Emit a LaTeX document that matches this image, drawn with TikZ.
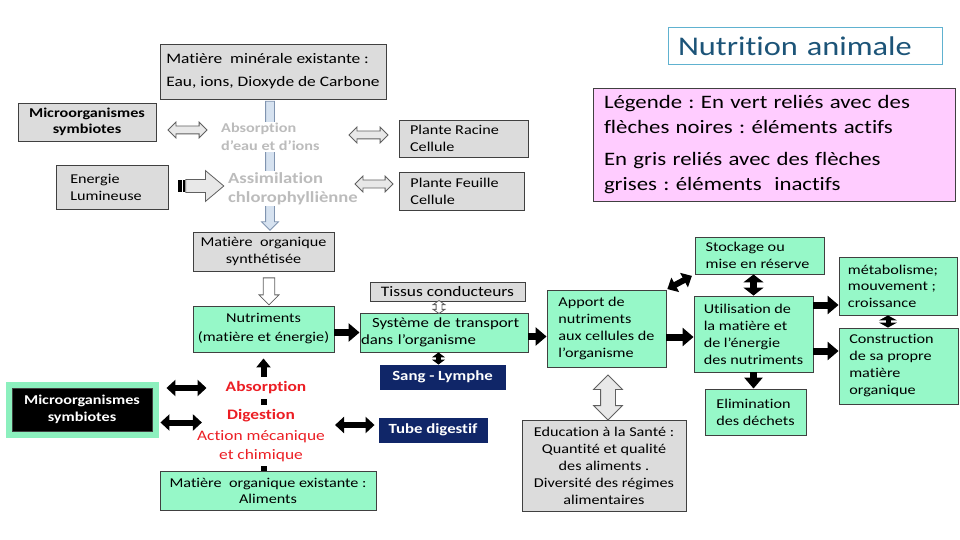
\documentclass[tikz,border=0pt]{standalone}
\usepackage{fontspec}
\setmainfont{Carlito}[FakeStretch=1.2,Ligatures=NoCommon]
\usetikzlibrary{arrows.meta,positioning,calc,shapes.arrows}
\frenchspacing
\hyphenpenalty=10000

\definecolor{vertclair}{RGB}{150,248,200}
\definecolor{grisbox}{RGB}{220,220,220}
\definecolor{bordgris}{RGB}{64,64,64}
\definecolor{marine}{RGB}{16,38,104}
\definecolor{rose}{RGB}{255,204,255}
\definecolor{titrebleu}{RGB}{28,84,120}
\definecolor{cadrebleu}{RGB}{96,178,208}
\definecolor{rouge}{RGB}{236,30,36}
\definecolor{grisinactif}{RGB}{188,188,188}
\definecolor{lueur}{RGB}{140,240,190}
\definecolor{bleupale}{RGB}{214,226,240}
\definecolor{bordbleu}{RGB}{128,148,176}

\tikzset{
  fnt/.style 2 args={font=\fontsize{#1}{#2}\selectfont},
  gras/.style 2 args={font=\fontsize{#1}{#2}\selectfont\bfseries},
  taille/.style 2 args={minimum width=#1,minimum height=#2},
  blk/.style={draw=bordgris,line width=0.9pt,inner sep=0pt,align=center,fnt={13.5}{17}},
  grisblk/.style={blk,fill=grisbox},
  vertblk/.style={blk,fill=vertclair},
  nuitblk/.style={blk,fill=marine,draw=marine,text=white,gras={14}{17}},
  txtinactif/.style={fill=white,inner sep=1pt,text=grisinactif,align=left},
  txtrouge/.style={fill=white,inner xsep=1pt,inner ysep=4.5pt,text=rouge,align=center},
  fl/.style={line width=7pt,-{Triangle[length=11pt,width=18pt]}},
  dfl/.style={line width=6pt,{Triangle[length=9pt,width=16pt]}-{Triangle[length=9pt,width=16pt]}},
  vdfl/.style={line width=7pt,{Triangle[length=8pt,width=20pt]}-{Triangle[length=8pt,width=20pt]}},
  sdfl/.style={line width=5pt,{Triangle[length=5pt,width=13pt]}-{Triangle[length=5pt,width=13pt]}},
  creux/.style={draw=gray!75!black,fill=gray!18,line width=0.8pt,inner xsep=0pt},
  dcreux/.style={creux,double arrow,double arrow head extend=4pt,minimum width=15pt,inner ysep=3.5pt},
  screux/.style={creux,single arrow,single arrow head extend=4pt}
}

\begin{document}
\begin{tikzpicture}[x=1pt,y=-1pt]
  \useasboundingbox (0,0) rectangle (960,540);
  \fill[white] (0,0) rectangle (960,540);

  % Titre et legende
  \node[draw=cadrebleu,line width=1pt,taille={274}{37},inner xsep=10pt,text width=254,align=left,
        text=titrebleu,fnt={27}{30}] (titre) at (805,46.5) {Nutrition animale};
  \node[blk,fill=rose,taille={362}{113},inner xsep=11pt,text width=340,align=left,fnt={19}{25}] (leg) at (774,144.5)
    {Légende : En vert reliés avec des\\flèches noires : éléments actifs\\[7pt]En gris reliés avec des flèches\\grises : éléments~ inactifs};

  % Partie vegetale (grisee)
  \node[grisblk,taille={226}{55},align=left,fnt={14.5}{17}] (minrl) at (273,71.5)
    {Matière~ minérale existante :\\[6pt]Eau, ions, Dioxyde de Carbone};
  \node[grisblk,taille={138}{38},gras={13.5}{16}] (microA) at (87,122) {Microorganismes\\symbiotes};
  \node[grisblk,taille={129}{37},align=left] (racine) at (463.5,138.5) {Plante Racine\hspace*{18pt}\\Cellule};
  \node[grisblk,taille={112}{44},align=left] (energie) at (112,187) {Energie\\Lumineuse\hspace*{12pt}};
  \node[grisblk,taille={125}{38},align=left] (feuille) at (461.5,191) {Plante Feuille\hspace*{14pt}\\Cellule};
  \node[grisblk,taille={141}{39}] (orgsyn) at (263.5,251.5) {Matière~ organique\\synthétisée};

  % fleche creuse verticale sous le texte grise
  \node[screux,fill=bleupale,draw=bordbleu,rotate=-90,minimum height=129pt,minimum width=16pt,inner ysep=4pt]
    (descente) at (270,163.5) {};
  \node[txtinactif,gras={13.5}{18},anchor=west] (absG) at (220,137) {Absorption\\d’eau et d’ions};
  \node[txtinactif,gras={15.5}{19},anchor=west] (assimG) at (227,188.5) {Assimilation\\chlorophylliènne};

  \node[dcreux,minimum height=39pt] (da1) at (187.5,130) {};
  \node[dcreux,minimum height=39pt] (da2) at (368.5,135) {};
  \node[dcreux,minimum height=38pt] (da3) at (374,184) {};
  \node[screux,minimum height=38pt,minimum width=30pt,inner ysep=6pt,single arrow head extend=9pt,single arrow tip angle=80]
    (rayee) at (201,186) {};
  \fill[black] ($(rayee.tail)+(-7,-6)$) rectangle ($(rayee.tail)+(-3.5,6)$);
  \fill[black] ($(rayee.tail)+(-2.5,-6)$) rectangle ($(rayee.tail)+(-0.5,6)$);

  \node[screux,fill=white,rotate=-90,minimum height=27pt,minimum width=20pt,inner ysep=5pt]
    (versnutr) at (269,288.5) {};

  % Partie animale (en vert)
  \node[vertblk,taille={141}{46},fnt={13.5}{19}] (nutr) at (263.5,329) {Nutriments\\(matière et énergie)};
  \node[grisblk,taille={155}{19},fnt={14.5}{17}] (tissus) at (447.5,291.5) {Tissus conducteurs};
  \node[vertblk,taille={168}{39},inner xsep=1pt,text width=166,align=left,fnt={14}{17}] (transp) at (444,332.5)
    {\hspace*{11pt}Système de transport\\dans l’organisme};
  \node[nuitblk,taille={125}{24}] (sang) at (442.5,377) {Sang - Lymphe};
  \node[vertblk,taille={119}{77},align=left] (apport) at (606.5,328.5)
    {Apport de\\nutriments\\aux cellules de\\l’organisme};
  \node[vertblk,taille={129}{37},align=left] (stock) at (759.5,255.5)
    {Stockage ou\\mise en réserve\hspace*{4pt}};
  \node[vertblk,taille={119}{76},align=left] (util) at (753.5,334)
    {Utilisation de\\la matière et\\de l’énergie\\des nutriments};
  \node[vertblk,taille={101}{46},align=left] (elim) at (755.5,412)
    {Elimination\\des déchets};
  \node[vertblk,taille={118}{58},align=left,fnt={13.5}{16.5}] (metab) at (898,286)
    {métabolisme;\hspace*{10pt}\\mouvement ;\\croissance};
  \node[vertblk,taille={119}{76},align=left] (constr) at (898.5,366)
    {Construction\hspace*{14pt}\\de sa propre\\matière\\organique};
  \node[grisblk,taille={164}{91}] (educ) at (604,465.5)
    {Education à la Santé :\\Quantité et qualité\\des aliments .\\Diversité des régimes\\alimentaires};
  \node[dcreux,rotate=90,minimum height=45pt,minimum width=28pt,inner ysep=7pt,double arrow head extend=7pt] (sante) at (608,397.5) {};
  \node[dcreux,rotate=90,minimum height=13pt,minimum width=11pt,inner ysep=2.5pt,double arrow head extend=3pt,
        double arrow tip angle=110,fill=white] (conduit) at (439,307) {};

  \node[blk,fill=black,text=white,taille={140}{43},gras={13.5}{17},preaction={draw=lueur,line width=13pt}]
    (micB) at (82,409.5) {Microorganismes\\symbiotes};
  \node[nuitblk,taille={108}{24}] (tube) at (433,430) {Tube digestif};
  \node[vertblk,taille={216}{39},fnt={13.5}{16}] (alim) at (268,490.5) {Matière~ organique existante :\\Aliments};

  % fleche noire montante, masquee par les textes rouges
  \coordinate (pied) at (alim.north -| nutr.south);
  \draw[fl,line width=6pt,-{Triangle[length=9pt,width=14pt]},shorten >=6pt] (pied) -- (nutr.south);
  \node[txtrouge,gras={14.5}{17}] (absR) at (266,388) {Absorption};
  \node[txtrouge,gras={14.5}{17}] (digR) at (261,416) {Digestion};
  \node[txtrouge,fnt={14.5}{19}] (actR) at (261,446) {Action mécanique\\et chimique};

  % fleches noires
  \draw[dfl,shorten <=14pt,shorten >=18pt] (micB.east |- absR.west) -- (absR.west);
  \draw[dfl,shorten <=8pt,shorten >=24pt] ([yshift=-13pt]micB.east) -- ([yshift=-13pt]micB.east -| digR.west);
  \draw[dfl,shorten <=9pt,shorten >=4pt] ([yshift=5pt]actR.east |- tube.west) -- ([yshift=5pt]tube.west);
  \draw[fl] (nutr.east |- transp.west) -- (transp.west);
  \draw[sdfl] ([xshift=-4pt]sang.north) -- ([xshift=-4pt]sang.north |- transp.south);
  \draw[fl] ([yshift=-4pt]transp.east) -- ([yshift=-4pt]transp.east -| apport.west);
  \draw[fl] ([yshift=-8.5pt]apport.east) -- ([yshift=-8.5pt]apport.east -| util.west);
  \draw[dfl,shorten <=1pt,shorten >=3pt] (apport.north east) -- (stock.south west);
  \draw[vdfl] (util.north) -- (util.north |- stock.south);
  \draw[fl] (util.south) -- (util.south |- elim.north);
  \draw[fl] ([yshift=29pt]util.east) -- ([yshift=29pt]util.east -| metab.west);
  \draw[fl] ([yshift=-17pt]util.east) -- ([yshift=-17pt]util.east -| constr.west);
  \draw[sdfl,{Triangle[length=5pt,width=18pt]}-{Triangle[length=5pt,width=18pt]}]
    ([xshift=-10pt]metab.south) -- ([xshift=-10pt]metab.south |- constr.north);
\end{tikzpicture}
\end{document}
